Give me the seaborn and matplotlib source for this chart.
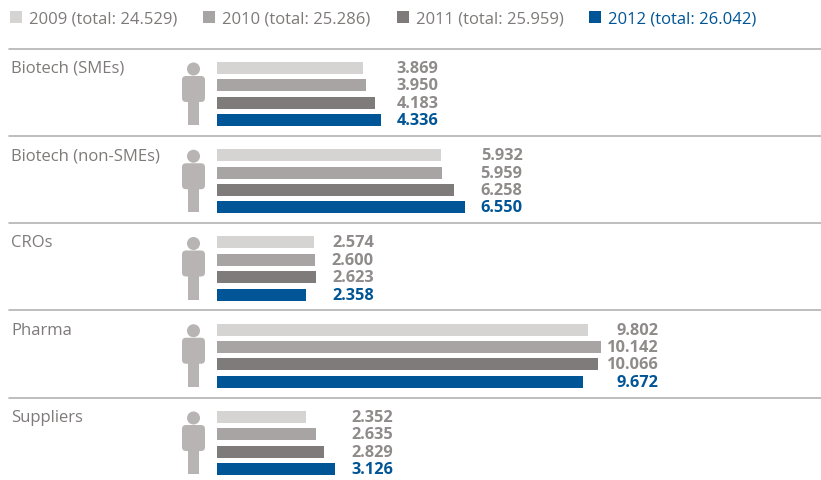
import pandas as pd
import matplotlib
matplotlib.use('Agg')
import matplotlib.pyplot as plt
import seaborn as sns
from matplotlib.patches import Circle, FancyBboxPatch, Rectangle
from matplotlib.transforms import Affine2D

# values
categories = ['Biotech (SMEs)', 'Biotech (non-SMEs)', 'CROs', 'Pharma', 'Suppliers']
years = ['2009', '2010', '2011', '2012']
totals = ['24.529', '25.286', '25.959', '26.042']
v2009 = [3.869, 5.932, 2.574, 9.802, 2.352]
v2010 = [3.950, 5.959, 2.600, 10.142, 2.635]
v2011 = [4.183, 6.258, 2.623, 10.066, 2.829]
v2012 = [4.336, 6.550, 2.358, 9.672, 3.126]
colors = ['#d5d4d2', '#a8a4a3', '#807b7b', '#005596']

W, H = 821, 481
X0, PX_UNIT = 216.6, 37.86   # pixel of value 0, pixels per unit
Y0, PX_ROW = 95.0, 87.25     # pixel of the first group centre, pixels per group
FS = 12.0

labels = [f'{y} (total: {t})' for y, t in zip(years, totals)]
frames = []
for lab, vals in zip(labels, [v2009, v2010, v2011, v2012]):
    frames.append(pd.DataFrame({'category': categories, 'series': lab, 'value': vals}))
df = pd.concat(frames)

sns.set_style('white')
plt.rcParams['font.family'] = ['Open Sans', 'DejaVu Sans']

fig = plt.figure(figsize=(W / 100, H / 100), dpi=100)
ax = fig.add_axes([0, 0, 1, 1])
sns.barplot(data=df, x='value', y='category', hue='series', order=categories,
            hue_order=labels, palette=colors, width=0.8, gap=0.31, saturation=1,
            errorbar=None, linewidth=0, ax=ax)
ax.set_xlim(-X0 / PX_UNIT, (W - X0) / PX_UNIT)
ax.set_ylim((H - Y0) / PX_ROW, -Y0 / PX_ROW)
ax.axis('off')

px = Affine2D().scale(1, -1).translate(0, H)  # pixels, y downwards
grey_text = '#7d7a79'

# legend from the bars
handles, leg_labels = ax.get_legend_handles_labels()
ax.legend(handles, leg_labels, ncol=4, loc='upper left', bbox_to_anchor=(-0.002, 1.0),
          bbox_transform=fig.transFigure, frameon=False, fontsize=FS,
          labelcolor=[grey_text, grey_text, grey_text, colors[3]],
          handlelength=0.72, handleheight=0.72, handletextpad=0.42, columnspacing=1.55,
          borderaxespad=0, borderpad=0.72)

for i, cat in enumerate(categories):
    yc = Y0 + i * PX_ROW
    # separator above each group
    ax.plot([9, W], [yc - 45.5, yc - 45.5], transform=px, color='#b4b3b3', lw=1.2, clip_on=False)
    ax.text(11, yc - 26, cat, transform=px, color=grey_text, fontsize=FS, va='center', ha='left')

    # person icon
    ax.add_patch(Circle((193.5, yc - 25), 6.5, transform=px, color='#b8b4b3', lw=0))
    ax.add_patch(FancyBboxPatch((185, yc - 15), 17, 20, boxstyle='round,pad=3,rounding_size=4',
                                transform=px, color='#b8b4b3', lw=0))
    ax.add_patch(Rectangle((188, yc), 11, 31, transform=px, color='#b8b4b3', lw=0))

    # value labels share one right edge per group
    row = [v2009[i], v2010[i], v2011[i], v2012[i]]
    right = max(row) + 58 / PX_UNIT
    for j, v in enumerate(row):
        ax.text(right, i + (j - 1.5) * 0.2, f'{v:.3f}', ha='right', va='center', fontsize=11.8,
                fontweight='bold', color=colors[3] if j == 3 else '#8e8b8a')

fig.savefig('out.png', dpi=100)
plt.close(fig)
